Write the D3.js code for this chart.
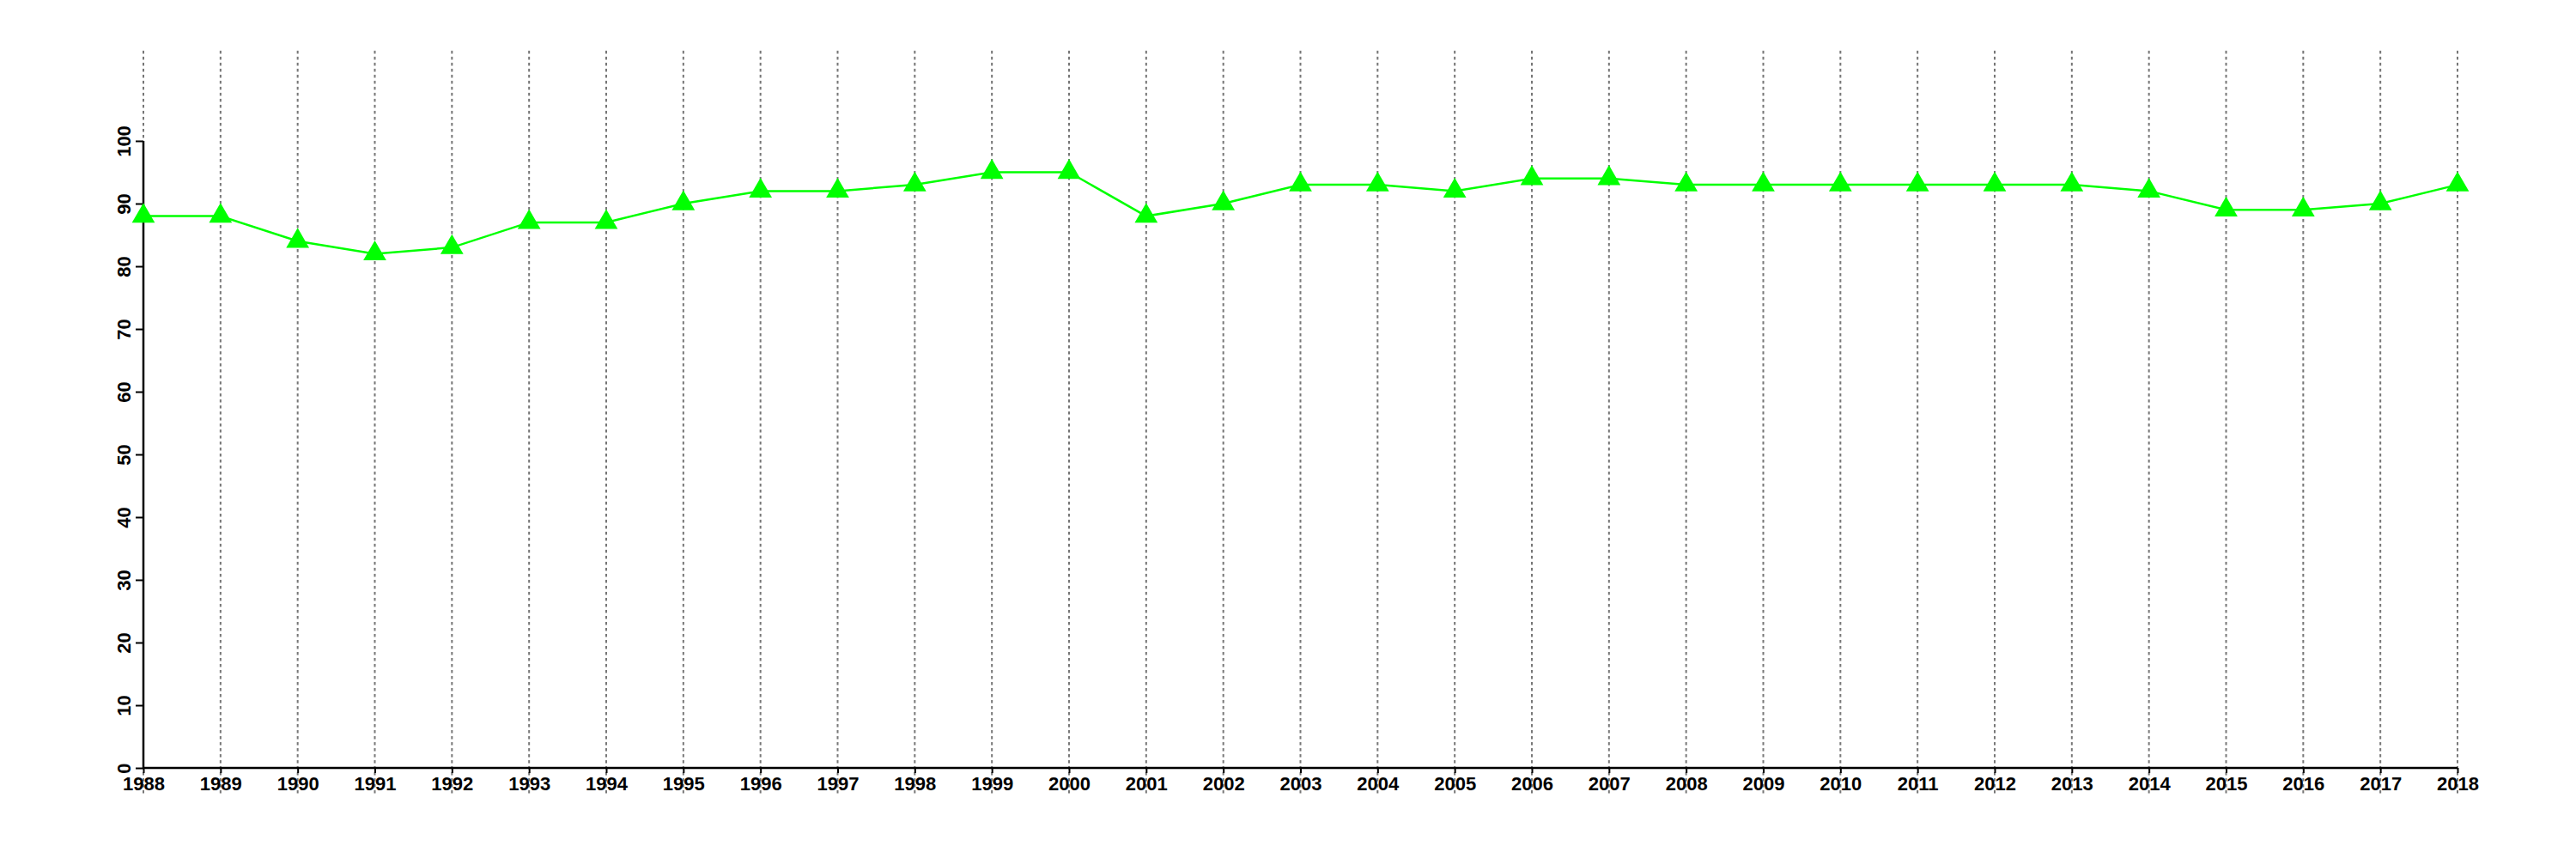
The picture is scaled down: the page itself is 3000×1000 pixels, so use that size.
<!DOCTYPE html>
<html><head><meta charset="utf-8">
<script src="https://cdn.jsdelivr.net/npm/d3@7"></script>
<style>body{margin:0;background:#fff}</style>
</head><body>
<svg id="c" width="3000" height="1000"></svg>
<script>
const years = [1988,1989,1990,1991,1992,1993,1994,1995,1996,1997,1998,1999,2000,2001,2002,2003,2004,2005,2006,2007,2008,2009,2010,2011,2012,2013,2014,2015,2016,2017,2018];
const values = [88,88,84,82,83,87,87,90,92,92,93,95,95,88,90,93,93,92,94,94,93,93,93,93,93,93,92,89,89,90,93];
const yTicks = [0,10,20,30,40,50,60,70,80,90,100];

const svg = d3.select("#c");
svg.append("rect").attr("width",3000).attr("height",1000).attr("fill","#fff");
const x = d3.scaleLinear().domain([1988,2018]).range([167,2862]);
const y = d3.scaleLinear().domain([0,100]).range([894,164]);
const font = "'Liberation Sans', Arial, sans-serif";

// grid
svg.append("g").selectAll("line").data(years).join("line")
  .attr("x1",d=>x(d)).attr("x2",d=>x(d)).attr("y1",59).attr("y2",927)
  .attr("stroke","#777").attr("stroke-width",2).attr("stroke-dasharray","3.5,3.5");

// y axis
const ya = svg.append("g").attr("transform","translate(167,0)")
  .call(d3.axisLeft(y).tickValues(yTicks).tickSize(9).tickFormat(d3.format("d")));
ya.select(".domain").attr("stroke","#000").attr("stroke-width",2.5).attr("d","M0,"+y(0)+"V"+y(100));
ya.selectAll(".tick line").attr("stroke","#000").attr("stroke-width",2);
ya.selectAll(".tick text").attr("x",null).attr("dy",null).attr("text-anchor","middle")
  .attr("transform","translate(-15,0) rotate(-90)")
  .style("font-family",font).style("font-size","22px").style("font-weight","bold").attr("fill","#000");

// x axis
const xa = svg.append("g").attr("transform","translate(0,894)")
  .call(d3.axisBottom(x).tickValues(years).tickSize(6).tickFormat(d3.format("d")));
xa.select(".domain").attr("stroke","#000").attr("stroke-width",2.5).attr("d","M"+x(1988)+",0H"+x(2018));
xa.selectAll(".tick line").attr("stroke","#000").attr("stroke-width",2);
xa.selectAll(".tick text").attr("y",26).attr("dy",null)
  .style("font-family",font).style("font-size","22px").style("font-weight","bold").attr("fill","#000");

// line
svg.append("path").datum(values)
  .attr("d", d3.line().x((d,i)=>x(years[i])).y(d=>y(d)))
  .attr("fill","none").attr("stroke","#00ff00").attr("stroke-width",2.5);

// markers
svg.append("g").selectAll("path").data(values).join("path")
  .attr("transform",(d,i)=>`translate(${x(years[i])},${y(d)})`)
  .attr("d", d3.symbol(d3.symbolTriangle, 310))
  .attr("fill","#00ff00");
</script>
</body></html>
